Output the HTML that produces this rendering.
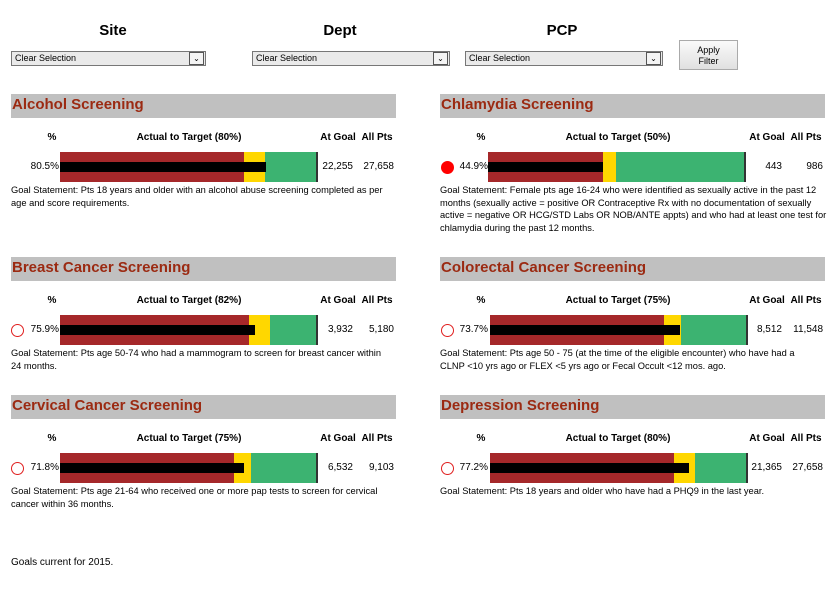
<!DOCTYPE html>
<html><head><meta charset="utf-8"><style>
body{margin:0;width:840px;height:600px;background:#fff;position:relative;font-family:"Liberation Sans",Arial,sans-serif;overflow:hidden}
.a{position:absolute}
.lab{position:absolute;font-weight:bold;font-size:15px;top:22px;transform:translateX(-50%)}
.dd{position:absolute;top:51px;height:13px;border:1px solid #777;background:#eaeaea;font-size:9px;line-height:13px;padding-left:3px;box-sizing:content-box}
.dd .ar{position:absolute;right:1px;top:0;width:13px;height:11px;border:1px solid #555;background:#f4f4f4;font-size:8px;line-height:11px;text-align:center}
.btn{position:absolute;left:679px;top:40px;width:59px;height:30px;border:1px solid #aaa;background:linear-gradient(#fafafa,#e0e0e0);font-size:9px;text-align:center;line-height:11px;box-sizing:border-box;padding-top:4px}
.p{position:absolute;width:386px;height:140px}
.hd{position:absolute;left:0;top:0;width:385px;height:24px;background:#c0c0c0;color:#9b2a12;font-weight:bold;font-size:15px;line-height:21px;padding-left:1px;box-sizing:border-box}
.ch{position:absolute;top:38px;font-size:10px;font-weight:bold;transform:translateX(-50%);white-space:nowrap}
.bar{position:absolute;left:49px;top:58px;height:30px;width:256px;display:flex;border-right:2px solid #333;box-sizing:content-box}
.bar i{display:block;height:30px}
.blk{position:absolute;left:49px;top:68px;height:10px;background:#000}
.pv{position:absolute;top:67px;right:338px;font-size:10px}
.n{position:absolute;top:67px;font-size:10px;text-align:right}
.g{position:absolute;top:90px;left:0;width:386px;font-size:9.3px;line-height:12.5px}
.c{position:absolute;left:1px;top:67px;width:11px;height:11px;border:1px solid #e02020;border-radius:50%}
</style></head><body>
<div class="lab" style="left:113px">Site</div>
<div class="lab" style="left:340px">Dept</div>
<div class="lab" style="left:562px">PCP</div>
<div class="dd" style="left:11px;width:190px">Clear Selection<div class="ar">&#8964;</div></div>
<div class="dd" style="left:252px;width:193px">Clear Selection<div class="ar">&#8964;</div></div>
<div class="dd" style="left:465px;width:193px">Clear Selection<div class="ar">&#8964;</div></div>
<div class="btn">Apply<br>Filter</div>

<div class="p" style="left:11px;top:94px">
<div class="hd">Alcohol Screening</div>
<div class="ch" style="left:41px">%</div><div class="ch" style="left:178px">Actual to Target (80%)</div><div class="ch" style="left:327px">At Goal</div><div class="ch" style="left:366px">All Pts</div>
<div class="bar"><i style="width:184px;background:#a5282a"></i><i style="width:21px;background:#ffd700"></i><i style="width:51px;background:#3cb371"></i></div>
<div class="blk" style="width:206px"></div>
<div class="pv">80.5%</div><div class="n" style="right:44px">22,255</div><div class="n" style="right:3px">27,658</div>
<div class="g" style="width:375px">Goal Statement: Pts 18 years and older with an alcohol abuse screening completed as per age and score requirements.</div>
</div>

<div class="p" style="left:440px;top:94px">
<div class="hd">Chlamydia Screening</div>
<div class="ch" style="left:41px">%</div><div class="ch" style="left:178px">Actual to Target (50%)</div><div class="ch" style="left:327px">At Goal</div><div class="ch" style="left:366px">All Pts</div>
<div class="bar" style="left:48px"><i style="width:115px;background:#a5282a"></i><i style="width:13px;background:#ffd700"></i><i style="width:128px;background:#3cb371"></i></div>
<div class="blk" style="left:48px;width:115px"></div>
<div class="c" style="background:#f00;border-color:#f00"></div>
<div class="pv">44.9%</div><div class="n" style="right:44px">443</div><div class="n" style="right:3px">986</div>
<div class="g" style="width:398px">Goal Statement: Female pts age 16-24 who were identified as sexually active in the past 12 months (sexually active = positive OR Contraceptive Rx with no documentation of sexually active = negative OR HCG/STD Labs OR NOB/ANTE appts) and who had at least one test for chlamydia during the past 12 months.</div>
</div>

<div class="p" style="left:11px;top:257px">
<div class="hd">Breast Cancer Screening</div>
<div class="ch" style="left:41px">%</div><div class="ch" style="left:178px">Actual to Target (82%)</div><div class="ch" style="left:327px">At Goal</div><div class="ch" style="left:366px">All Pts</div>
<div class="bar"><i style="width:189px;background:#a5282a"></i><i style="width:21px;background:#ffd700"></i><i style="width:46px;background:#3cb371"></i></div>
<div class="blk" style="width:195px"></div>
<div class="c" style="left:0"></div>
<div class="pv">75.9%</div><div class="n" style="right:44px">3,932</div><div class="n" style="right:3px">5,180</div>
<div class="g" style="width:380px">Goal Statement: Pts age 50-74 who had a mammogram to screen for breast cancer within 24 months.</div>
</div>

<div class="p" style="left:440px;top:257px">
<div class="hd">Colorectal Cancer Screening</div>
<div class="ch" style="left:41px">%</div><div class="ch" style="left:178px">Actual to Target (75%)</div><div class="ch" style="left:327px">At Goal</div><div class="ch" style="left:366px">All Pts</div>
<div class="bar" style="left:50px"><i style="width:174px;background:#a5282a"></i><i style="width:17px;background:#ffd700"></i><i style="width:65px;background:#3cb371"></i></div>
<div class="blk" style="left:50px;width:190px"></div>
<div class="c"></div>
<div class="pv">73.7%</div><div class="n" style="right:44px">8,512</div><div class="n" style="right:3px">11,548</div>
<div class="g" style="width:375px">Goal Statement: Pts age 50 - 75 (at the time of the eligible encounter) who have had a CLNP &lt;10 yrs ago or FLEX &lt;5 yrs ago or Fecal Occult &lt;12 mos. ago.</div>
</div>

<div class="p" style="left:11px;top:395px">
<div class="hd">Cervical Cancer Screening</div>
<div class="ch" style="left:41px">%</div><div class="ch" style="left:178px">Actual to Target (75%)</div><div class="ch" style="left:327px">At Goal</div><div class="ch" style="left:366px">All Pts</div>
<div class="bar"><i style="width:174px;background:#a5282a"></i><i style="width:17px;background:#ffd700"></i><i style="width:65px;background:#3cb371"></i></div>
<div class="blk" style="width:184px"></div>
<div class="c" style="left:0"></div>
<div class="pv">71.8%</div><div class="n" style="right:44px">6,532</div><div class="n" style="right:3px">9,103</div>
<div class="g" style="width:380px">Goal Statement: Pts age 21-64 who received one or more pap tests to screen for cervical cancer within 36 months.</div>
</div>

<div class="p" style="left:440px;top:395px">
<div class="hd">Depression Screening</div>
<div class="ch" style="left:41px">%</div><div class="ch" style="left:178px">Actual to Target (80%)</div><div class="ch" style="left:327px">At Goal</div><div class="ch" style="left:366px">All Pts</div>
<div class="bar" style="left:50px"><i style="width:184px;background:#a5282a"></i><i style="width:21px;background:#ffd700"></i><i style="width:51px;background:#3cb371"></i></div>
<div class="blk" style="left:50px;width:199px"></div>
<div class="c"></div>
<div class="pv">77.2%</div><div class="n" style="right:44px">21,365</div><div class="n" style="right:3px">27,658</div>
<div class="g">Goal Statement: Pts 18 years and older who have had a PHQ9 in the last year.</div>
</div>

<div class="a" style="left:11px;top:557px;font-size:10px">Goals current for 2015.</div>
</body></html>
